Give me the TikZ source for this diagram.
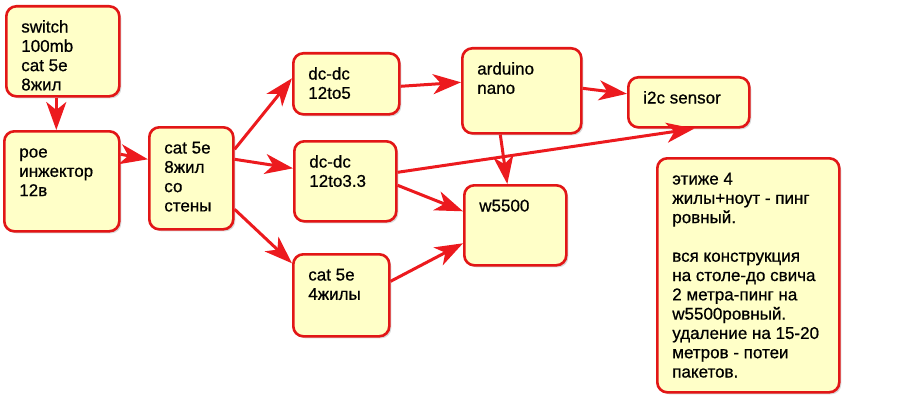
\documentclass[tikz,border=0pt]{standalone}
\usepackage{fontspec}
\setmainfont{Liberation Sans}[FakeBold=0.7]
\usetikzlibrary{arrows.meta,shadows}

\definecolor{boxred}{RGB}{226,22,22}
\definecolor{boxfill}{RGB}{255,255,200}
\definecolor{arrred}{RGB}{236,26,30}
% text block of a box: width, height, lines
\newcommand{\btext}[3]{\parbox[c][#2][t]{#1}{\raggedright\strut #3}}

\begin{document}
\begin{tikzpicture}[x=1pt, y=-1pt,
            blk/.style={draw=boxred, line width=2.6pt, fill=boxfill, rounded corners=10pt,
                        anchor=north west, inner xsep=15pt, inner ysep=12.7pt,
                        drop shadow={shadow xshift=2pt, shadow yshift=-2pt, opacity=0.3},
                        font=\fontsize{17}{19.3}\selectfont},
            arr/.style={draw=arrred, line width=3pt, -{Stealth[length=28pt, width=20pt, inset=8pt]}}]
        \useasboundingbox (0,0) rectangle (905,404);

        % boxes
        \node[blk] (sw)   at (5,5)     {\btext{83pt}{64.6pt}{switch\\100mb\\cat 5e\\8жил}};
        \node[blk] (poe)  at (3,130)   {\btext{85pt}{74.6pt}{рое\\инжектор\\12в}};
        \node[blk] (cat8) at (148,126) {\btext{54pt}{76.6pt}{cat 5e\\8жил\\со\\стены}};
        \node[blk] (dc5)  at (292,52)  {\btext{76pt}{35.6pt}{dc-dc\\12to5}};
        \node[blk] (dc33) at (293,140) {\btext{72pt}{54.6pt}{dc-dc\\12to3.3}};
        \node[blk] (cat4) at (292,253) {\btext{66pt}{56.6pt}{cat 5e\\4жилы}};
        \node[blk] (ard)  at (461,47)  {\btext{89pt}{59.6pt}{arduino\\nano}};
        \node[blk] (w55)  at (463,184) {\btext{72pt}{54.6pt}{w5500}};
        \node[blk] (i2c)  at (627,76)  {\btext{91pt}{24.6pt}{i2c sensor}};
        \node[blk] (note) at (656,157) {\btext{152pt}{208.6pt}{этиже 4\\жилы+ноут - пинг\\ровный.\\[19.3pt]вся конструкция\\на столе-до свича\\2 метра-пинг на\\w5500ровный.\\удаление на 15-20\\метров - потеи\\пакетов.}};

        % links
        \draw[arr] ([xshift=-6.5pt]sw.south) -- ([xshift=-5.5pt]poe.north);
        \draw[arr] ([yshift=27pt]poe.east) -- ([yshift=19pt]cat8.west);
        \draw[arr] ([yshift=29pt]cat8.east) -- ([yshift=5.5pt]dc5.west);
        \draw[arr] ([yshift=19pt]cat8.east) -- ([yshift=13pt]dc33.west);
        \draw[arr] ([yshift=-31pt]cat8.east) -- ([yshift=32pt]cat4.west);
        \draw[arr] ([yshift=-2.5pt]dc5.east) -- ([yshift=8.5pt]ard.west);
        \draw[arr] ([yshift=2.5pt]ard.east) -- ([yshift=8.5pt]i2c.west);
        \draw[arr] ([xshift=-21.5pt]ard.south) -- ([xshift=-8pt]w55.north);
        \draw[arr] ([yshift=9pt]dc33.east) -- ([xshift=5.5pt]i2c.south);
        \draw[arr] ([yshift=-4pt]dc33.east) -- ([yshift=14pt]w55.west);
        \draw[arr] ([yshift=14pt]cat4.east) -- ([yshift=-18pt]w55.west);
\end{tikzpicture}
\end{document}
